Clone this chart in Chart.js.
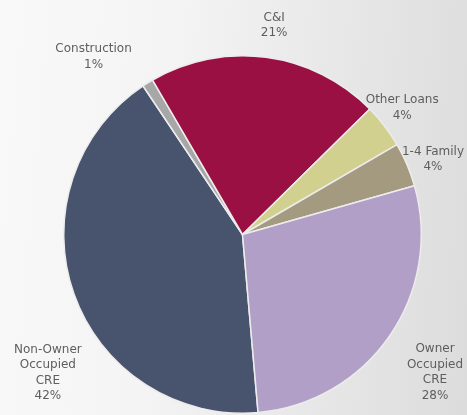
<!DOCTYPE html>
<html>
<head>
<meta charset="utf-8">
<script src="https://cdn.jsdelivr.net/npm/chart.js@4"></script>
<style>
html,body{margin:0;padding:0;background:#f0f0f0;}
#wrap{position:relative;width:467px;height:415px;overflow:hidden;background:linear-gradient(95deg,#f9f9f9 0%,#f4f4f4 35%,#e5e5e5 75%,#dcdcdc 100%);}
canvas{display:block;}
</style>
</head>
<body>
<div id="wrap"><canvas id="c" width="467" height="415"></canvas></div>
<script>
// Data
const categories = ["Non-Owner Occupied CRE", "Construction", "C&I", "Other Loans", "1-4 Family", "Owner Occupied CRE"];
const shares = [42, 1, 21, 4, 4, 28];
const labelLines = [
  ["Non-Owner", "Occupied", "CRE", "42%"],
  ["Construction", "1%"],
  ["C&I", "21%"],
  ["Other Loans", "4%"],
  ["1-4 Family", "4%"],
  ["Owner", "Occupied", "CRE", "28%"]
];

// Styles
const colors = ["#48546e", "#a7a7a7", "#9b1042", "#d2d08e", "#a49a7f", "#b29fc7"];
// label placement: [radial distance beyond outer radius, angle shift in degrees]
const labelPlace = [[60, -16], [53, -8], [33, 1], [25, -1], [26, 1.5], [58, 1]];

const labelPlugin = {
  id: 'outerLabels',
  afterDatasetsDraw(chart) {
    const ctx = chart.ctx;
    const meta = chart.getDatasetMeta(0);
    ctx.save();
    ctx.font = '12px "DejaVu Sans", sans-serif';
    ctx.fillStyle = '#5e5e5e';
    ctx.textAlign = 'center';
    ctx.textBaseline = 'middle';
    const lh = 15.5;
    meta.data.forEach((arc, i) => {
      const p = arc.getProps(['x', 'y', 'startAngle', 'endAngle', 'outerRadius'], true);
      const mid = (p.startAngle + p.endAngle) / 2 + labelPlace[i][1] * Math.PI / 180;
      const r = p.outerRadius + labelPlace[i][0];
      const cx = p.x + Math.cos(mid) * r;
      const cy = p.y + Math.sin(mid) * r;
      const lines = labelLines[i];
      const y0 = cy - (lines.length - 1) * lh / 2;
      lines.forEach((t, k) => ctx.fillText(t, cx, y0 + k * lh));
    });
    ctx.restore();
  }
};

new Chart(document.getElementById('c'), {
  type: 'pie',
  data: {
    labels: categories,
    datasets: [{
      data: shares,
      backgroundColor: colors,
      borderColor: '#ececec',
      borderWidth: 1.5
    }]
  },
  options: {
    responsive: false,
    animation: false,
    rotation: 175,
    layout: { padding: { top: 55, bottom: 1, left: 63, right: 45 } },
    plugins: { legend: { display: false }, tooltip: { enabled: false } }
  },
  plugins: [labelPlugin]
});
</script>
</body>
</html>
